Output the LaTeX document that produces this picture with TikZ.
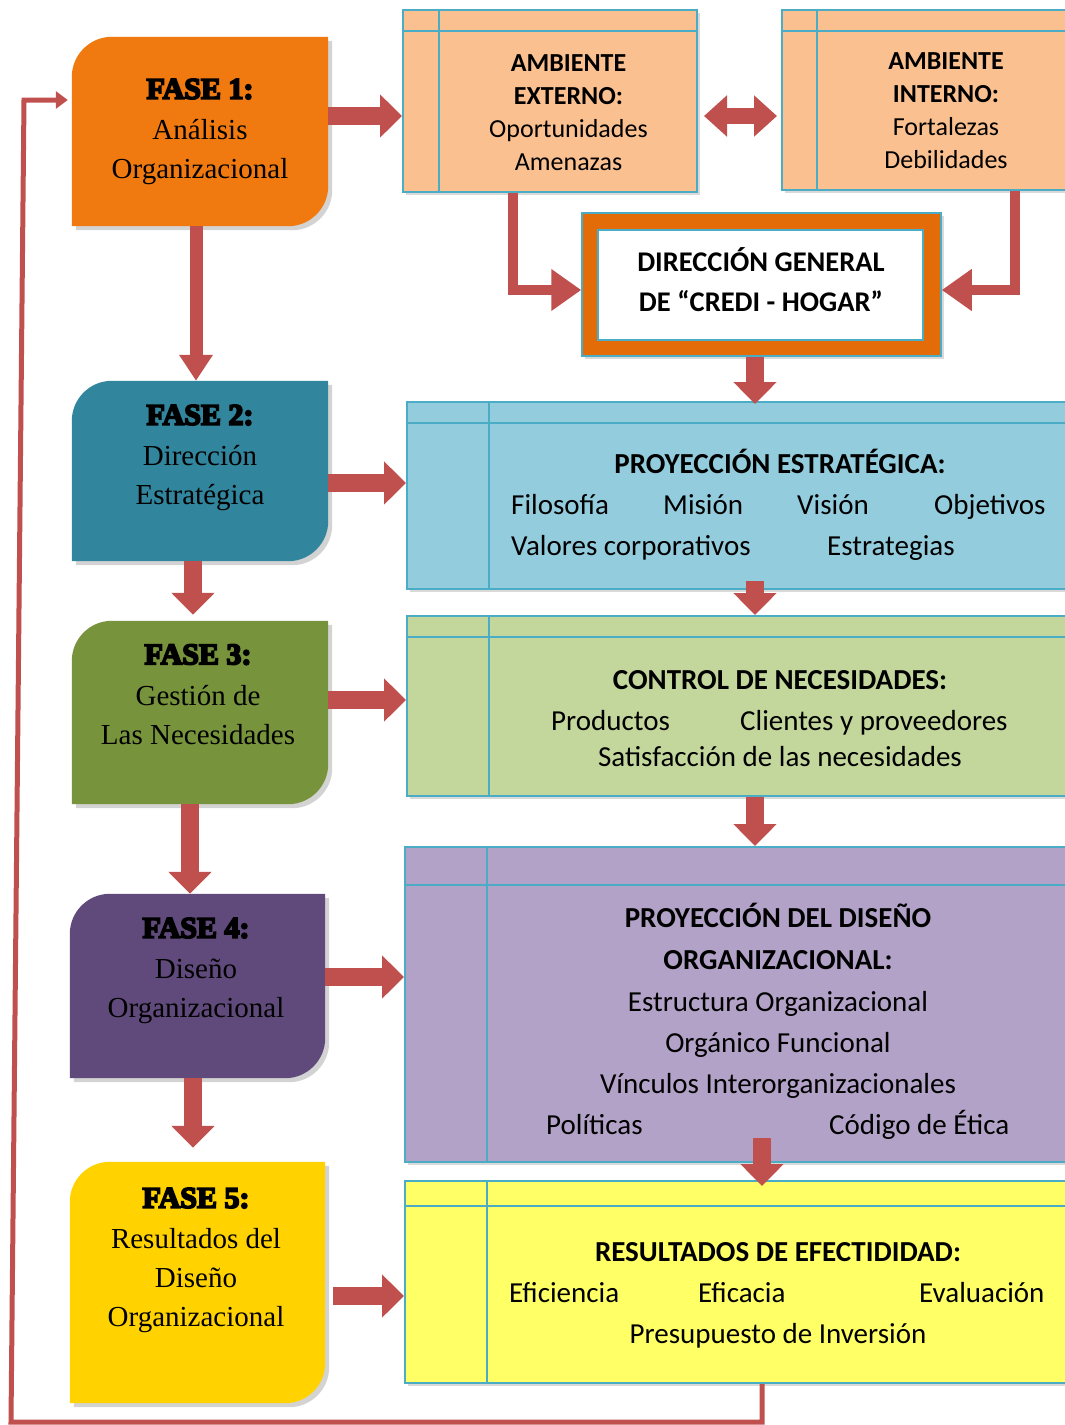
\documentclass[tikz,border=0pt]{standalone}
\usepackage{fontspec}
\setmainfont{Liberation Serif}
\newfontfamily\calibri{Carlito}
\newfontfamily\fasefont{Liberation Serif}[BoldFeatures={FakeBold=6}]
\usetikzlibrary{arrows.meta,shadows}

\definecolor{rojo}{HTML}{C0504D}
\definecolor{bordeazul}{HTML}{4BACC6}
\definecolor{naranjaf}{HTML}{F07A10}
\definecolor{azulf}{HTML}{31859C}
\definecolor{verdef}{HTML}{77933C}
\definecolor{moradof}{HTML}{604A7B}
\definecolor{amarillof}{HTML}{FFD200}
\definecolor{durazno}{HTML}{FAC090}
\definecolor{celeste}{HTML}{93CDDD}
\definecolor{verdeclaro}{HTML}{C3D69B}
\definecolor{lila}{HTML}{B2A2C7}
\definecolor{amarilloclaro}{HTML}{FFFF66}
\definecolor{naranjadir}{HTML}{E36C09}

\pgfdeclarelayer{fondo}
\pgfsetlayers{fondo,main}

% contorno de las fases: esquinas redondeadas arriba-izq y abajo-der
\newcommand{\hoja}[1]{(#1.north east) -- ([yshift=40pt]#1.south east)
  .. controls ([yshift=18pt]#1.south east) and ([xshift=-18pt]#1.south east) .. ([xshift=-40pt]#1.south east)
  -- (#1.south west) -- ([yshift=-40pt]#1.north west)
  .. controls ([yshift=-18pt]#1.north west) and ([xshift=18pt]#1.north west) .. ([xshift=40pt]#1.north west) -- cycle}
\newcommand{\fasebox}[2]{%
  \begin{pgfonlayer}{fondo}
    \fill[#2, drop shadow={shadow xshift=4pt, shadow yshift=-4pt, opacity=.35}] \hoja{#1};
  \end{pgfonlayer}}

\tikzset{
  fase/.style={minimum width=256pt, minimum height=#1, inner sep=0pt},
  fasetxt/.style={align=center, font=\fontsize{29}{39}\selectfont, inner sep=0pt},
  caja/.style={draw=bordeazul, line width=2pt, fill=#1, inner sep=0pt,
    drop shadow={shadow xshift=3pt, shadow yshift=-3pt, opacity=.3}},
  linea/.style={draw=bordeazul, line width=2pt},
  txtc/.style={font=\calibri\fontsize{26}{33}\selectfont, align=center, inner sep=0pt},
  txt/.style={font=\calibri\fontsize{29}{41}\selectfont, anchor=base west, inner sep=0pt},
  txtm/.style={font=\calibri\fontsize{29}{41}\selectfont, anchor=base, inner sep=0pt},
  tit/.style={font=\calibri\bfseries\fontsize{29}{41}\selectfont, anchor=base, inner sep=0pt},
  flecha/.style={draw=rojo, line width=18pt, -{Triangle[length=22pt,width=42pt]}},
  flechados/.style={draw=rojo, line width=16pt, {Triangle[length=23pt,width=40pt]}-{Triangle[length=23pt,width=40pt]}},
  flechafina/.style={draw=rojo, line width=13pt, -{Triangle[length=26pt,width=32pt]}},
  codo/.style={draw=rojo, line width=10pt, -{Triangle[length=30pt,width=40pt]}},
  retro/.style={draw=rojo, line width=5pt, -{Triangle[length=12pt,width=17pt]}}
}

\begin{document}
\begin{tikzpicture}[x=1pt,y=-1pt]
\useasboundingbox (0,0) rectangle (1065,1425);
\clip (0,0) rectangle (1065,1425);

% fases
\node[fase=189pt] (f1) at (200,131.5) {};
\node[fase=180pt] (f2) at (200,471) {};
\node[fase=183pt] (f3) at (200,712.5) {};
\node[fase=184pt, minimum width=255pt] (f4) at (197.5,986) {};
\node[fase=241pt, minimum width=255pt] (f5) at (197.5,1282.5) {};
\fasebox{f1}{naranjaf}
\fasebox{f2}{azulf}
\fasebox{f3}{verdef}
\fasebox{f4}{moradof}
\fasebox{f5}{amarillof}
\node[fasetxt] (f1t) at (200,132) {{\fasefont\bfseries\fontsize{30}{39}\selectfont FASE 1:}\\[2pt]Análisis\\Organizacional};
\node[fasetxt] (f2t) at (200,458) {{\fasefont\bfseries\fontsize{30}{39}\selectfont FASE 2:}\\[2pt]Dirección\\Estratégica};
\node[fasetxt] (f3t) at (198,694.5) {{\fasefont\bfseries\fontsize{30}{39}\selectfont FASE 3:}\\[2pt]Gestión de\\Las Necesidades};
\node[fasetxt] (f4t) at (196,971) {{\fasefont\bfseries\fontsize{30}{39}\selectfont FASE 4:}\\[2pt]Diseño\\Organizacional};
\node[fasetxt] (f5t) at (196,1260.5) {{\fasefont\bfseries\fontsize{30}{39}\selectfont FASE 5:}\\[2pt]Resultados del\\Diseño\\Organizacional};

% ambientes
\node[caja=durazno, minimum width=294pt, minimum height=182pt] (ext) at (550,101) {};
\draw[linea] ([xshift=37pt]ext.north west) -- ([xshift=37pt]ext.south west);
\draw[linea] ([yshift=-22pt]ext.north west) -- ([yshift=-22pt]ext.north east);
\node[txtc] (extt) at (568.5,113) {\textbf{AMBIENTE}\\\textbf{EXTERNO:}\\Oportunidades\\Amenazas};
\node[caja=durazno, minimum width=294pt, minimum height=180pt] (int) at (929,100) {};
\draw[linea] ([xshift=36pt]int.north west) -- ([xshift=36pt]int.south west);
\draw[linea] ([yshift=-22pt]int.north west) -- ([yshift=-22pt]int.north east);
\node[txtc] (intt) at (946,111) {\textbf{AMBIENTE}\\\textbf{INTERNO:}\\Fortalezas\\Debilidades};

% direccion general
\node[draw=bordeazul, line width=1.5pt, fill=naranjadir, minimum width=359pt, minimum height=143pt,
  drop shadow={shadow xshift=3pt, shadow yshift=-3pt, opacity=.3}] (dir) at (761.5,284.5) {};
\node[draw=bordeazul, line width=1.5pt, fill=white, minimum width=325pt, minimum height=110pt] (dirin) at (760.5,285) {};
\node[align=center, inner sep=0pt, font=\calibri\bfseries\fontsize{28.5}{40}\selectfont] (dirt) at (761,280) {DIRECCIÓN GENERAL\\DE “CREDI - HOGAR”};

% proyeccion estrategica
\node[caja=celeste, minimum width=696pt, minimum height=187pt] (pe) at (755,495.5) {};
\draw[linea] ([xshift=83pt]pe.north west) -- ([xshift=83pt]pe.south west);
\draw[linea] ([yshift=-22pt]pe.north west) -- ([yshift=-22pt]pe.north east);
\node[tit] (pe0) at (780,473) {PROYECCIÓN ESTRATÉGICA:};
\node[txt] (pe1) at (511,514) {Filosofía};
\node[txt] (pe2) at (663,514) {Misión};
\node[txt] (pe3) at (797,514) {Visión};
\node[txt] (pe4) at (934,514) {Objetivos};
\node[txt] (pe5) at (511,555) {Valores corporativos};
\node[txt] (pe6) at (827,555) {Estrategias};

% control de necesidades
\node[caja=verdeclaro, minimum width=696pt, minimum height=180pt] (cn) at (755,706) {};
\draw[linea] ([xshift=83pt]cn.north west) -- ([xshift=83pt]cn.south west);
\draw[linea] ([yshift=-22pt]cn.north west) -- ([yshift=-22pt]cn.north east);
\node[tit] (cn0) at (780,689) {CONTROL DE NECESIDADES:};
\node[txt] (cn1) at (551,730) {Productos};
\node[txt] (cn2) at (740,730) {Clientes y proveedores};
\node[txtm] (cn3) at (780,766) {Satisfacción de las necesidades};

% diseño organizacional
\node[caja=lila, minimum width=698pt, minimum height=315pt] (dd) at (754,1004.5) {};
\draw[linea] ([xshift=83pt]dd.north west) -- ([xshift=83pt]dd.south west);
\draw[linea] ([yshift=-39pt]dd.north west) -- ([yshift=-39pt]dd.north east);
\node[tit] (dd0) at (778,927) {PROYECCIÓN DEL DISEÑO};
\node[tit] (dd1) at (778,969) {ORGANIZACIONAL:};
\node[txtm] (dd2) at (778,1011) {Estructura Organizacional};
\node[txtm] (dd3) at (778,1052) {Orgánico Funcional};
\node[txtm] (dd4) at (778,1093) {Vínculos Interorganizacionales};
\node[txt] (dd5) at (546,1134) {Políticas};
\node[txt] (dd6) at (829,1134) {Código de Ética};

% resultados
\node[caja=amarilloclaro, minimum width=698pt, minimum height=202pt] (rr) at (754,1282) {};
\draw[linea] ([xshift=83pt]rr.north west) -- ([xshift=83pt]rr.south west);
\draw[linea] ([yshift=-26pt]rr.north west) -- ([yshift=-26pt]rr.north east);
\node[tit] (rr0) at (778,1261) {RESULTADOS DE EFECTIDIDAD:};
\node[txt] (rr1) at (509,1302) {Eficiencia};
\node[txt] (rr2) at (698,1302) {Eficacia};
\node[txt] (rr3) at (919,1302) {Evaluación};
\node[txtm] (rr4) at (778,1343) {Presupuesto de Inversión};

% flechas
\draw[flecha] ([yshift=15.5pt]f1.east) -- ([yshift=-15pt]ext.west);
\draw[flechados] ([xshift=6pt,yshift=-15pt]ext.east) -- ([xshift=-4pt,yshift=-16pt]int.west);
\draw[codo] ([xshift=-37pt]ext.south) |- ([yshift=-5.5pt]dir.west);
\draw[codo] ([xshift=86pt]int.south) |- ([yshift=-5.5pt]dir.east);
\draw[flechafina] ([xshift=-4pt]f1.south) -- ([xshift=-4pt]f2.north);
\draw[flecha] ([xshift=-6.5pt]dir.south) -- ([yshift=-3pt]pe.north);
\draw[flecha] ([yshift=-12pt]f2.east) -- ([yshift=12.5pt]pe.west);
\draw[flecha] ([xshift=-7pt]f2.south) -- ([xshift=-7pt,yshift=6pt]f3.north);
\draw[flecha] ([yshift=9pt]pe.south) -- (cn.north);
\draw[flecha] ([yshift=12.5pt]f3.east) -- ([yshift=6pt]cn.west);
\draw[flecha] ([xshift=-10pt]f3.south) -- ([xshift=-7.5pt]f4.north);
\draw[flecha] (cn.south) -- ([xshift=1pt]dd.north);
\draw[flecha] ([yshift=9pt]f4.east) -- ([yshift=27.5pt]dd.west);
\draw[flecha] ([xshift=-4.5pt]f4.south) -- ([xshift=-4.5pt,yshift=14pt]f5.north);
\draw[flecha] ([xshift=8pt,yshift=25pt]dd.south) -- ([xshift=8pt,yshift=-6pt]rr.north);
\draw[flecha] ([xshift=8pt,yshift=-13.5pt]f5.east) -- ([yshift=-14pt]rr.west);

% retorno a la fase 1
\coordinate (vuelta) at (11,1422);
\coordinate (subida) at (24,100);
\draw[retro] ([xshift=8pt]rr.south) |- (vuelta) -- (subida) -- ([xshift=-4pt,yshift=31.5pt]f1.west);
\end{tikzpicture}
\end{document}
